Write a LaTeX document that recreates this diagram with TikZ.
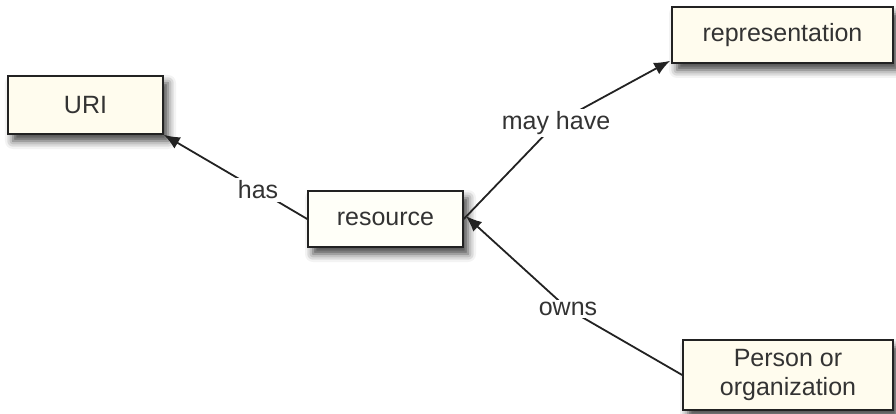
\documentclass[tikz,border=0pt]{standalone}
\usepackage{fontspec}
\setmainfont{Liberation Sans}
\usetikzlibrary{arrows.meta,shadows.blur}
\definecolor{cream}{HTML}{FFFCEE}
\definecolor{paper}{HTML}{FFFFF8}
\definecolor{ink}{HTML}{222222}
\definecolor{txt}{HTML}{333333}
\tikzset{
  box/.style={draw=ink, line width=1.6pt, fill=cream, text=txt, inner sep=0pt,
    align=center, font=\fontsize{25}{29}\selectfont,
    blur shadow={shadow xshift=5pt, shadow yshift=-7pt, shadow blur radius=8pt, shadow opacity=75}},
  conn/.style={draw=ink, line width=1.8pt, -{Latex[length=16pt,width=13pt]}},
  lbl/.style={fill=white, text=txt, inner sep=2.5pt, font=\fontsize{25}{28}\selectfont}
}
\begin{document}
\begin{tikzpicture}[x=1pt,y=-1pt]
\useasboundingbox (0,0) rectangle (896,414);
\node[box, minimum width=155pt, minimum height=58pt] (uri) at (85.5,105) {URI};
\node[box, fill=paper, minimum width=155pt, minimum height=56pt] (res) at (385.5,219) {resource};
\node[box, minimum width=221pt, minimum height=56pt] (rep) at (782.5,35) {representation};
\node[box, minimum width=210pt, minimum height=70pt] (per) at (788,375) {Person or\\organization};
\coordinate (has) at (258,190);
\coordinate (may) at (556,123);
\coordinate (own) at (568,309);
\draw[conn] (res.west) -- (has) -- (uri.south east);
\draw[conn] (res.east) -- (may) -- ([xshift=-1pt,yshift=3pt]rep.south west);
\draw[conn] (per.west) -- (own) -- ([xshift=2pt,yshift=3pt]res.east);
\node[lbl] (hasl) at (has) {has};
\node[lbl] (mayl) at (may) {may have};
\node[lbl] (ownl) at (own) {owns};
\end{tikzpicture}
\end{document}
